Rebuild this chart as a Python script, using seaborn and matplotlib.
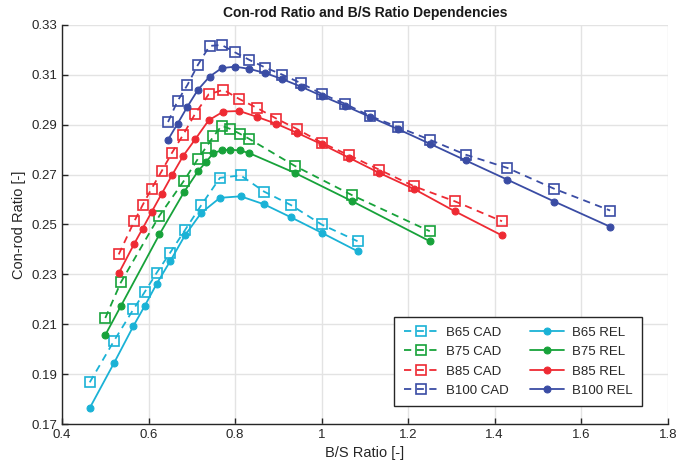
import matplotlib
matplotlib.use("Agg")
import matplotlib.pyplot as plt
import numpy as np
import pandas as pd
import seaborn as sns

# B/S ratio values for each bore family
bs_b65 = [0.464, 0.520, 0.565, 0.591, 0.619, 0.650, 0.684, 0.722, 0.765, 0.813,
          0.867, 0.929, 1.000, 1.083]
bs_b75 = [0.500, 0.536, 0.625, 0.682, 0.714, 0.732, 0.750, 0.769, 0.789, 0.811,
          0.833, 0.938, 1.071, 1.250]
bs_b85 = [0.531, 0.567, 0.586, 0.607, 0.630, 0.654, 0.680, 0.708, 0.739, 0.773,
          0.810, 0.850, 0.895, 0.944, 1.000, 1.063, 1.133, 1.214, 1.308, 1.417]
bs_b100 = [0.645, 0.667, 0.690, 0.714, 0.741, 0.769, 0.800, 0.833, 0.870, 0.909,
           0.952, 1.000, 1.053, 1.111, 1.176, 1.250, 1.333, 1.429, 1.538, 1.667]

# con-rod ratio, CAD
cad_b65 = [0.1867, 0.2033, 0.2160, 0.2229, 0.2307, 0.2387, 0.2477, 0.2578, 0.2687, 0.2697,
           0.2632, 0.2578, 0.2500, 0.2433]
cad_b75 = [0.2125, 0.2268, 0.2535, 0.2676, 0.2763, 0.2807, 0.2853, 0.2896, 0.2883, 0.2864,
           0.2843, 0.2735, 0.2617, 0.2473]
cad_b85 = [0.2380, 0.2513, 0.2577, 0.2644, 0.2713, 0.2787, 0.2860, 0.2945, 0.3022, 0.3040,
           0.3003, 0.2968, 0.2925, 0.2882, 0.2828, 0.2778, 0.2720, 0.2653, 0.2593, 0.2513]
cad_b100 = [0.2911, 0.2995, 0.3060, 0.3140, 0.3216, 0.3220, 0.3190, 0.3160, 0.3129, 0.3101,
            0.3067, 0.3024, 0.2985, 0.2936, 0.2891, 0.2840, 0.2780, 0.2727, 0.2643, 0.2556]

# con-rod ratio, REL
rel_b65 = [0.1764, 0.1944, 0.2093, 0.2173, 0.2263, 0.2353, 0.2456, 0.2547, 0.2607, 0.2613,
           0.2581, 0.2529, 0.2467, 0.2393]
rel_b75 = [0.2057, 0.2173, 0.2460, 0.2630, 0.2713, 0.2749, 0.2787, 0.2797, 0.2800, 0.2797,
           0.2786, 0.2707, 0.2593, 0.2433]
rel_b85 = [0.2304, 0.2423, 0.2483, 0.2550, 0.2622, 0.2697, 0.2775, 0.2842, 0.2918, 0.2953,
           0.2955, 0.2932, 0.2904, 0.2867, 0.2822, 0.2768, 0.2707, 0.2642, 0.2553, 0.2456]
rel_b100 = [0.2840, 0.2904, 0.2973, 0.3040, 0.3093, 0.3127, 0.3133, 0.3124, 0.3107, 0.3083,
            0.3053, 0.3016, 0.2977, 0.2932, 0.2883, 0.2824, 0.2757, 0.2680, 0.2592, 0.2491]

names = ["B65", "B75", "B85", "B100"]
colors = ["#1AB2D6", "#17A23A", "#EE2A33", "#3A4CA4"]
bs_all = [bs_b65, bs_b75, bs_b85, bs_b100]
cad_all = [cad_b65, cad_b75, cad_b85, cad_b100]
rel_all = [rel_b65, rel_b75, rel_b85, rel_b100]

x_ticks = [0.4, 0.6, 0.8, 1.0, 1.2, 1.4, 1.6, 1.8]
x_ticklabels = ["0.4", "0.6", "0.8", "1", "1.2", "1.4", "1.6", "1.8"]
y_ticks = [0.17, 0.19, 0.21, 0.23, 0.25, 0.27, 0.29, 0.31, 0.33]

sns.set_style("white")
plt.rcParams["font.family"] = ["Liberation Sans", "DejaVu Sans"]

fig = plt.figure(figsize=(6.9, 4.68), dpi=100)
ax = fig.add_axes([0.0899, 0.094, 0.8778, 0.8526])

# CAD series first so the legend's first column holds them
for name, col, bs, cad in zip(names, colors, bs_all, cad_all):
    df = pd.DataFrame({"bs": bs, "ratio": cad})
    sns.lineplot(data=df, x="bs", y="ratio", ax=ax, color=col, sort=False,
                 linestyle=(0, (4, 3)), linewidth=1.3, marker="s", markersize=6.5,
                 markerfacecolor="none", markeredgecolor=col, markeredgewidth=1.2,
                 label=f"{name} CAD")

for name, col, bs, rel in zip(names, colors, bs_all, rel_all):
    df = pd.DataFrame({"bs": bs, "ratio": rel})
    sns.lineplot(data=df, x="bs", y="ratio", ax=ax, color=col, sort=False,
                 linestyle="-", linewidth=1.3, marker="o", markersize=5,
                 markerfacecolor=col, markeredgecolor=col,
                 label=f"{name} REL")

ax.set_xlim(0.4, 1.8)
ax.set_ylim(0.17, 0.33)
ax.set_xticks(x_ticks)
ax.set_xticklabels(x_ticklabels)
ax.set_yticks(y_ticks)
ax.set_yticklabels([f"{v:.2f}" for v in y_ticks])
ax.tick_params(direction="in", length=4, width=1, labelsize=9.5, colors="#262626",
               left=True, bottom=True)
ax.grid(True, color="#e3e3e3", linewidth=1)
ax.set_axisbelow(True)

for s in ["top", "right"]:
    ax.spines[s].set_visible(False)
for s in ["left", "bottom"]:
    ax.spines[s].set_color("#262626")
    ax.spines[s].set_linewidth(1)

ax.set_xlabel("B/S Ratio [-]", fontsize=10.5, color="#262626")
ax.set_ylabel("Con-rod Ratio [-]", fontsize=10.5, color="#262626")
ax.set_title("Con-rod Ratio and B/S Ratio Dependencies", fontsize=10,
             fontweight="bold", color="#1a1a1a", pad=6)

leg = ax.legend(loc="lower right", bbox_to_anchor=(0.968, 0.028), ncol=2,
                fontsize=9.5, frameon=True, fancybox=False, edgecolor="#262626",
                handlelength=2.6, handletextpad=0.6, columnspacing=1.6,
                labelspacing=0.55, borderpad=0.7, framealpha=1)
leg.get_frame().set_linewidth(1)

plt.savefig("out.png", dpi=100)
plt.close(fig)
